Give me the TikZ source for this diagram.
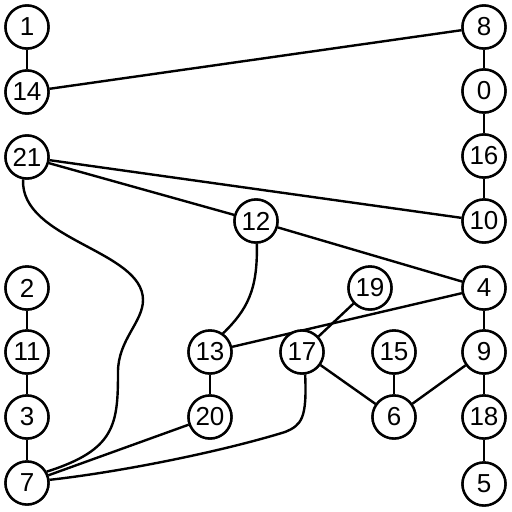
\documentclass[tikz,border=0pt]{standalone}
\usepackage{fontspec}
\setmainfont{Liberation Sans}
\begin{document}
\begin{tikzpicture}[x=1pt,y=-1pt,
  vtx/.style={circle,draw=black,line width=2.4pt,fill=white,minimum size=43pt,inner sep=0pt,font=\fontsize{26}{26}\selectfont},
  edge/.style={line width=2.4pt,draw=black}]
\useasboundingbox (0,0) rectangle (512,512);
\fill[white] (0,0) rectangle (512,512);
\node[vtx] (n1) at (27,27) {1};
\node[vtx] (n14) at (27,92) {14};
\node[vtx] (n8) at (484,27) {8};
\node[vtx] (n0) at (484,91) {0};
\node[vtx] (n16) at (484,156) {16};
\node[vtx] (n10) at (484,221) {10};
\node[vtx] (n21) at (27,157) {21};
\node[vtx] (n12) at (256,221) {12};
\node[vtx] (n2) at (27,288) {2};
\node[vtx] (n11) at (27,352) {11};
\node[vtx] (n3) at (27,417) {3};
\node[vtx] (n7) at (27,483) {7};
\node[vtx] (n19) at (370,288) {19};
\node[vtx] (n4) at (484,288) {4};
\node[vtx] (n13) at (210,352) {13};
\node[vtx] (n17) at (302,352) {17};
\node[vtx] (n15) at (394,352) {15};
\node[vtx] (n9) at (484,352) {9};
\node[vtx] (n20) at (210,417) {20};
\node[vtx] (n6) at (394,417) {6};
\node[vtx] (n18) at (484,417) {18};
\node[vtx] (n5) at (484,484) {5};
\draw[edge] (n1) -- (n14);
\draw[edge] (n14) -- (n8);
\draw[edge] (n8) -- (n0);
\draw[edge] (n0) -- (n16);
\draw[edge] (n16) -- (n10);
\draw[edge] (n21) -- (n12);
\draw[edge] (n21) -- (n10);
\draw[edge] (n12) -- (n4);
\draw[edge] (n4) -- (n13);
\draw[edge] (n19) -- (n17);
\draw[edge] (n4) -- (n9);
\draw[edge] (n17) -- (n6);
\draw[edge] (n15) -- (n6);
\draw[edge] (n9) -- (n6);
\draw[edge] (n9) -- (n18);
\draw[edge] (n18) -- (n5);
\draw[edge] (n2) -- (n11);
\draw[edge] (n11) -- (n3);
\draw[edge] (n3) -- (n7);
\draw[edge] (n20) -- (n7);
\draw[edge] (n13) -- (n20);
\draw[edge] (n21.-100) .. controls (20,240) and (143,250) .. (143,300)
  .. controls (143,322) and (118,340) .. (118,372)
  .. controls (118,425) and (115,450) .. (n7.30);
\draw[edge] (n12.-88) .. controls (258,290) and (247,310) .. (n13.55);
\draw[edge] (n17.-82) .. controls (307,418) and (302,425) .. (285,432)
  .. controls (220,452) and (120,472) .. (n7.8);
\foreach \n/\t in {1/1,14/14,8/8,0/0,16/16,10/10,21/21,12/12,2/2,11/11,3/3,7/7,19/19,4/4,13/13,17/17,15/15,9/9,20/20,6/6,18/18,5/5}
  \node[vtx] at (n\n) {\t};
\end{tikzpicture}
\end{document}
